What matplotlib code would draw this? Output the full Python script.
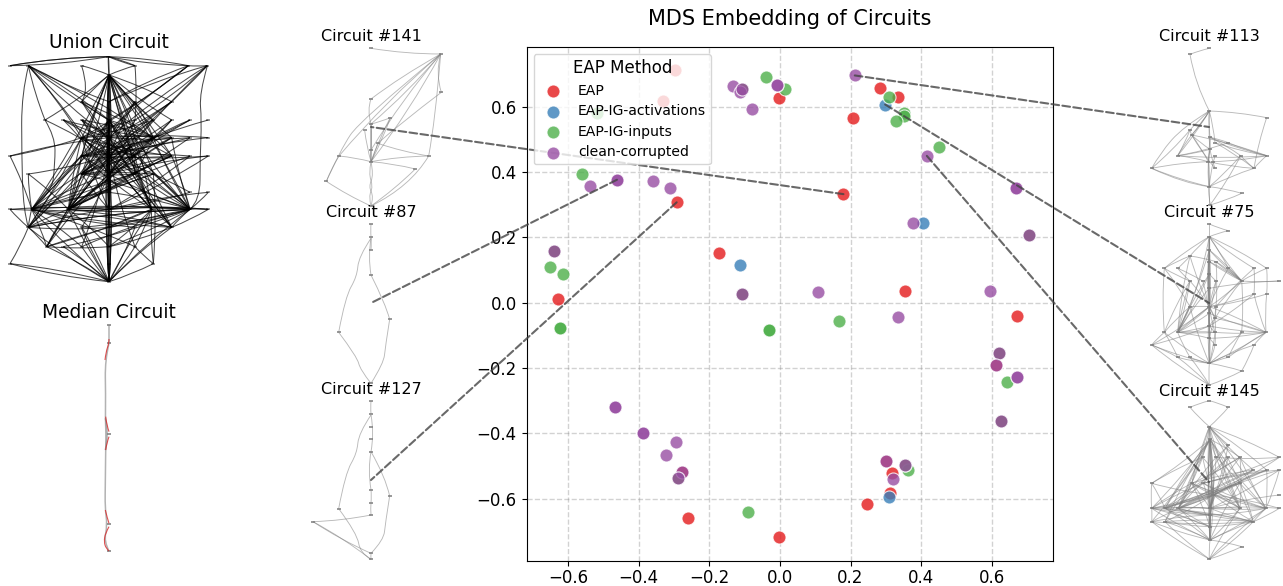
import matplotlib
matplotlib.use("Agg")
import matplotlib.pyplot as plt
from matplotlib.path import Path
from matplotlib.patches import PathPatch, ConnectionPatch

# scatter values, one list per method (overlapping points are repeated on purpose)
eap_x = [-0.297, -0.331, -0.002, -0.292, 0.284, 0.333, 0.207, 0.180, -0.171, -0.627, -0.261, -0.002, 0.354, 0.671,
         0.247, 0.318, 0.313, 0.301, 0.611, -0.277, -0.106, 0.706, -0.638, -0.108, -0.289, 0.620, 0.627, 0.354]
eap_y = [0.712, 0.617, 0.627, 0.307, 0.657, 0.628, 0.566, 0.332, 0.153, 0.011, -0.660, -0.717, 0.037, -0.042,
         -0.615, -0.521, -0.582, -0.485, -0.190, -0.517, 0.654, 0.208, 0.158, 0.027, -0.537, -0.155, -0.362, -0.496]
act_x = [0.298, 0.406, -0.113, 0.310]
act_y = [0.606, 0.245, 0.114, -0.593]
inp_x = [-0.517, -0.038, 0.015, -0.561, 0.309, 0.352, 0.351, 0.329, 0.450, -0.650, -0.613, -0.621, -0.621, -0.031, -0.031,
         -0.090, 0.167, 0.642, 0.362, -0.106, 0.706, -0.638, -0.108, -0.289, 0.620, 0.627, 0.354]
inp_y = [0.579, 0.689, 0.653, 0.394, 0.630, 0.580, 0.570, 0.555, 0.477, 0.110, 0.087, -0.077, -0.077, -0.083, -0.083,
         -0.640, -0.056, -0.242, -0.511, 0.654, 0.208, 0.158, 0.027, -0.537, -0.155, -0.362, -0.496]
cc_x = [-0.133, -0.113, -0.106, -0.009, -0.009, -0.080, -0.461, -0.461, -0.538, -0.358, -0.310, 0.212, 0.416, 0.668, 0.668,
        0.376, 0.706, -0.638, -0.108, -0.466, -0.466, -0.387, -0.387, -0.295, -0.323, -0.277, -0.289, 0.109, 0.335, 0.594,
        0.620, 0.611, 0.670, 0.670, 0.627, 0.301, 0.354, 0.320]
cc_y = [0.662, 0.643, 0.654, 0.666, 0.666, 0.592, 0.376, 0.376, 0.357, 0.373, 0.351, 0.695, 0.449, 0.352, 0.352,
        0.245, 0.208, 0.158, 0.027, -0.320, -0.320, -0.400, -0.400, -0.425, -0.466, -0.517, -0.537, 0.032, -0.044, 0.037,
        -0.155, -0.190, -0.227, -0.227, -0.362, -0.485, -0.496, -0.539]
methods = ["EAP", "EAP-IG-activations", "EAP-IG-inputs", "clean-corrupted"]
method_colors = ["#e41a1c", "#377eb8", "#4daf4a", "#984ea3"]

# circuit graphs: rows of nodes as (y, [x, ...]), a row letter + position names a node
union_rows = [
    (110, [325]), (137, [30, 85, 245, 405, 565, 622]), (165, [327]), (245, [245, 327, 405, 515]),
    (300, [135, 190, 245, 327, 405, 460, 515, 570, 625]), (353, [245, 327, 405, 460, 515, 570, 625]),
    (408, [30, 245, 327, 405, 515, 570, 625]), (462, [85, 245, 327, 405, 460]), (517, [327, 570, 625]),
    (568, [30, 95, 205, 327, 455, 570, 625]), (622, [85, 245, 327, 405, 515]), (680, [140, 190, 245, 327, 405]),
    (731, [30, 327, 460]), (785, [327]),
]
union_edges = """
a0-b0 a0-b0 a0-b0 a0-b4 a0-b4 a0-b3 a0-b3 a0-c0 a0-c0 b1-e3 b1-f1 b1-f3 b1-g4 b1-h2 b1-e0 b1-f0 b1-d1 b2-c0 b3-c0 b3-e4
b4-d1 b4-f0 b4-g1 b4-e3 b5-d1 b5-e4 b5-f1 b5-g2 b5-h2 b5-b4 c0-d1 c0-e3 c0-e3 c0-f0 c0-f1 c0-f2 c0-g1 c0-g2 c0-g3 c0-h1
c0-h2 c0-j1 c0-j2 c0-j3 c0-j4 c0-j5 c0-k4 c0-e0 c0-e5 c0-f3 c0-f4 c0-g4 c0-d0 c0-d3 c0-e6 c0-h4 c0-i0 c0-h3
d0-e3 d0-f3 d1-e3 d1-f1 d1-g2 d2-f3 d2-f1 d3-f1 d3-g2 e0-g2 e1-f1 e1-h2 e2-f1 e2-g2 e3-f1 e3-f3 e3-g2 e3-g2 e3-g3 e3-h2 e3-i0
e3-j1 e3-j2 e3-j4 e3-j5 e3-k0 e3-k4 e3-l0 e3-n0 e4-h2 e5-h2 e6-g3 e7-f3 e7-g2 e8-g2 f0-j1 f0-j2 f0-k0 f0-j3 f1-f6 f1-g2 f1-g2
f1-j1 f1-j2 f1-j3 f1-j4 f1-j5 f1-k0 f1-k4 f1-h2 f1-n0 f2-j4 f2-j5 f3-g4 f3-j5 f3-h3 f4-j5 f5-f1 f6-g2 g0-f1 g0-f0 g0-j1
g1-j1 g1-j2 g1-k0 g1-h2 g2-g6 g2-h2 g2-h2 g2-i0 g2-j1 g2-j2 g2-j3 g2-j3 g2-j4 g2-j5 g2-k0 g2-k4 g2-l0 g2-l2 g2-l4 g2-n0
g3-j4 g3-j5 g3-h3 g4-j5 g4-h3 g5-j3 g6-h2 g6-j3 h0-j1 h0-j2 h0-g2 h1-j2 h1-j3 h2-i0 h2-j1 h2-j2 h2-j3 h2-j3 h2-j5 h2-k1 h2-l0
h2-n0 h2-k2 h3-j4 h3-j5 h4-j5 i0-j3 i0-j3 i0-j1 i0-j5 i0-l3 i1-j3 i1-g2 i2-j5 i2-j3 j0-j3 j0-k0 j0-k4 j1-j3 j1-j5 j1-k0 j1-l0
j1-n0 j1-l2 j2-j5 j2-j6 j2-k0 j2-j3 j2-l0 j2-l3 j2-n0 j3-j5 j3-k2 j3-l3 j3-n0 j3-n0 j3-k0 j4-j5 j4-k2 j4-k4 j4-n0 j4-l4 j4-m2
j5-j6 j5-k4 j5-l3 j5-n0 j5-k2 j5-k0 j6-k4 j6-j3 k0-j5 k0-k2 k0-l0 k0-n0 k1-n0 k2-n0 k3-n0 k4-n0 k4-l3 l0-l3 l0-n0 l0-j4
l1-n0 l2-n0 l3-n0 l3-n0 l4-n0 l4-m2 k0-m0 m0-n0 m0-n0 m1-n0 m2-n0 m2-h4 j4-l3
e1-g3 e2-g3 e5-h1 e6-h1 f2-h1 f3-h1 f4-g1 f5-g1 g1-j4 g3-j2 d0-h3 d2-h1 d3-h1 e4-j2 e2-j4 f0-j4 f2-j2 f3-j2 f4-j2 f5-j2
g4-j2 g4-j1 g5-j2 h1-j5 h3-j1 h3-j2 h4-j2 h4-j1 j1-k4 j2-k4 k1-j5 k3-j1 l1-j5 l2-j5 l4-j1 l0-j5 f0-h3 f0-f4 f0-g4 f3-g1
f2-g1 f4-h1 e4-f0 e5-f0 e1-f3 e2-f3 g1-g4 g1-g5 g3-h1 g4-h1 h1-h3 h1-h4 f0-g3 f2-h2 f3-h2 d0-f1 d2-g2 e6-h2 e7-h2 f4-h2
"""
union_curves = [
    [(85, 140), (65, 220), (65, 400), (70, 570), (85, 622)],
    [(245, 138), (268, 210), (245, 245)],
    [(622, 138), (598, 220), (605, 300), (600, 420), (600, 540), (570, 568)],
    [(135, 300), (165, 350), (165, 430), (155, 520), (95, 568)],
    [(245, 625), (275, 700), (327, 785)],
]

c145_rows = [
    (62, [238]), (82, [180, 295]), (140, [238]), (178, [240]), (195, [295]), (232, [218, 258, 295, 330, 448]),
    (270, [370, 410, 448]), (310, [65, 185, 220, 330]), (345, [250, 448]), (385, [65, 105, 145, 240, 330, 408, 448]),
    (405, [240]), (425, [65, 105, 370]), (440, [240]), (480, [240]), (500, [335]), (537, [238]),
]
c145_edges = """
a0-b0 a0-b1 b0-c0 b1-c0 c0-d0 c0-d0 c0-e0 c0-f0 c0-f1 c0-f4 c0-g0 c0-g1 c0-h1 c0-h3 c0-j3 c0-j2 c0-j4 c0-j5
d0-f1 d0-f3 d0-h1 d0-i0 d0-i0 d0-i0 d0-i0 d0-j3 d0-j3 d0-j0 d0-j2 d0-j4 d0-j5 d0-l0 d0-l1 d0-l2 d0-k0 d0-m0 d0-n0 e0-f1 e0-h2 e0-j3
f0-j1 f0-j2 f0-i0 f1-h3 f1-j4 f1-j3 f1-f4 f2-h2 f2-j2 f3-h1 f3-i0 f3-j4 f3-j5 f4-i0 g0-h1 g0-i0 g1-j2 g1-j5 g1-i0
g2-j3 g2-h2 g2-j5 h0-d0 h0-f0 h0-j0 h0-j1 h1-i0 h1-j2 h1-j0 h1-j3 h1-l1 h2-j1 h2-j0 h2-j3 h3-i0 h3-l2 h3-j5
i0-j0 i0-j1 i0-j2 i0-j3 i0-j3 i0-j3 i0-j4 i0-j5 i0-j6 i0-l0 i0-l1 i0-l2 i0-k0 i0-m0 i0-n0 i1-j3 j0-j3 j0-k0 j0-l0 j0-n0
j1-j3 j1-k0 j1-n0 j1-m0 j2-j3 j2-k0 j2-n0 j2-m0 j3-j4 j3-j5 j3-j6 j3-k0 j3-k0 j3-l2 j3-m0 j3-n0
j4-n0 j4-p0 j5-k0 j5-l2 j5-n0 j5-p0 j6-l2 l0-n0 l0-k0 l0-p0 l1-n0 l1-p0 l2-m0 l2-n0 l2-p0 m0-n0 n0-o0 n0-p0 o0-p0
k0-m0 d0-k0 k0-n0 k0-n0 k0-m0 m0-n0 m0-n0
f0-j4 f1-j2 f2-j3 f3-j1 f4-h2 g0-j2 g0-j1 g1-h2 g1-j1 g2-j2 h1-j4 h1-j5 h2-j4 h2-j5 h3-j0 h3-j1 h3-j2 h0-i0
j1-l2 j2-l2 j0-l2 l0-l2 l1-l2 l1-m0 j0-m0 h3-n0 h1-m0 d0-j1
"""
c75_rows = [
    (72, [238]), (92, [295]), (110, [238]), (150, [238]), (168, [180]), (185, [238, 258]),
    (205, [103, 143, 295, 372, 410]), (222, [238]), (243, [180, 218, 258, 335, 448]), (265, [238]), (282, [372, 410]),
    (320, [180, 238, 258]), (340, [238]), (355, [255]), (378, [238]), (397, [103, 143, 255, 335, 408]), (415, [238]),
    (435, [65, 255, 372]), (472, [143, 180, 295]), (490, [238]), (513, [335]), (555, [238]),
]
c75_edges = """
a0-b0 a0-c0 b0-c0 c0-d0 c0-d0 c0-d0 c0-e0 c0-f0 c0-g0 c0-g2 c0-g3 c0-g4 c0-i3 c0-l0 c0-l1 d0-f0 d0-f0 d0-h0 d0-i3 d0-i3 d0-l1 d0-l1 d0-l1
d0-p1 d0-o0 e0-g1 e0-l1 e0-f1 e0-p1 f0-h0 f0-h0 f1-i3 f1-i3 f1-l2 f0-i3 f0-i3 f0-j0 g0-e0 g0-i0 g0-l0 g0-p0 g1-i1 g1-i0 g2-i3 g2-l1
g3-k0 g3-l2 g4-k1 g4-i3 h0-j0 h0-j0 h0-l1 h0-p1 h0-p1 h0-i2 i0-l1 i0-p0 i0-p1 i0-p1 i1-m0 i2-l1 i2-m0 i3-i4 i3-l1 i3-n0 i3-p3
i4-j0 j0-l1 j0-l1 j0-m0 j0-p1 k0-l1 k0-p4 k1-l1 k1-p4 k0-o0 l0-p1 l0-p1 l0-p0 l0-l1 l0-t0 l1-m0 l1-m0 l1-n0 l1-n0 l1-o0 l1-p1 l1-p1
l1-p2 l1-p4 l1-q0 l1-r0 l1-t0 l2-n0 l2-n0 m0-o0 m0-o0 m0-p1 m0-p4 n0-p4 n0-o0 n0-r1 n0-q0 o0-p1 o0-p2 o0-q0 o0-q0 o0-r0 o0-p4 o0-t0
p0-r0 p0-s0 p0-t0 p1-q0 p1-p2 p1-p2 p1-s1 p2-t0 p2-p4 p3-t0 p3-s2 p4-q0 p4-r2 p4-t0 p4-s2
q0-r1 q0-t0 q0-t0 r0-t0 r0-s0 r0-v0 r1-t0 r2-t0 r2-u0 s0-t0 s0-v0 s1-t0 s1-v0 s2-t0 t0-u0 t0-v0 u0-v0
"""
c113_rows = [
    (85, [238]), (103, [180]), (273, [238]), (293, [410]), (330, [180]), (345, [185]), (352, [240]), (368, [255, 295]),
    (388, [240]), (407, [143, 255, 332, 410]), (425, [235, 250]), (445, [65, 255, 372]), (500, [238]), (520, [335]),
    (555, [240]),
]
c113_edges = """
a0-b0 c0-d0 c0-e0 c0-f0 c0-g0 c0-h0 c0-i0 c0-j0 d0-l2 e0-j0 e0-f0 e0-l0 f0-j0 f0-j3 f0-i0 f0-k0 f0-l1 g0-h1 g0-j3 g0-j2 g0-m0 g0-i0
h0-j3 h0-l2 h1-j3 h1-j0 i0-k0 i0-j0 i0-l1 j0-k0 j0-j3 j1-k1 j2-l2 j2-m0 j3-l2 j3-k1 k0-l2 k0-m0 k1-m0 l0-k0 l0-m0 m0-n0
m0-o0 n0-o0 l2-m0 j2-o0 k0-o0 c0-f0 i0-k0
"""
c113_curves = [
    [(180, 103), (195, 190), (238, 273)],
    [(238, 273), (160, 320), (90, 400), (65, 445)],
    [(65, 445), (160, 490), (238, 500)],
]
c141_rows = [
    (85, [212]), (102, [421]), (237, [212]), (217, [423]), (293, [270]), (312, [212]), (331, [193]), (370, [232]),
    (390, [212]), (408, [116, 385]), (425, [212]), (447, [345]), (484, [78]), (558, [212]),
]
c141_edges = """
a0-b0 b0-f0 b0-i0 b0-k0 b0-j0 e0-f0 e0-k0 e0-k0 f0-k0 f0-k0 h0-j1 h0-k0 i0-k0 j0-k0 j1-k0 k0-l0 m0-n0 l0-n0 j0-m0 f0-i0 g0-k0
"""
c141_curves = [
    [(421, 102), (300, 170), (212, 237)],
    [(421, 102), (405, 160), (423, 217)],
    [(421, 102), (405, 300), (385, 408)],
    [(421, 102), (180, 300), (120, 390), (78, 484)],
    [(212, 237), (200, 270), (212, 312)],
    [(423, 217), (300, 310), (232, 370)],
    [(212, 425), (205, 460), (218, 500), (205, 530), (212, 558)],
    [(212, 425), (220, 465), (205, 500), (220, 530), (212, 558)],
    [(385, 408), (330, 500), (212, 558)],
]
c87_rows = [(72, [212]), (110, [212]), (149, [212]), (225, [212]), (358, [268]), (397, [115]), (550, [212])]
c87_edges = "a0-b0 b0-c0"
c87_curves = [
    [(212, 115), (175, 170), (170, 230), (135, 290), (115, 397)],
    [(212, 115), (203, 170), (212, 225)],
    [(212, 225), (255, 310), (268, 358)],
    [(268, 358), (255, 440), (250, 490), (212, 550)],
    [(115, 397), (170, 470), (180, 510), (212, 550)],
]
c127_rows = [
    (603, [212]), (642, [212]), (680, [212]), (716, [212]), (755, [212]), (869, [212]), (888, [268]), (908, [212]),
    (926, [115]), (945, [212]), (965, [38]), (1060, [212]), (1078, [212]),
]
c127_edges = "a0-b0 f0-h0 h0-j0 j0-k0 k0-l0 k0-m0 l0-m0"
c127_curves = [
    [(212, 645), (222, 700), (212, 755)],
    [(212, 645), (175, 700), (170, 760), (135, 820), (115, 926)],
    [(115, 926), (170, 1000), (180, 1060), (212, 1078)],
    [(212, 755), (255, 830), (268, 888)],
    [(268, 888), (255, 970), (250, 1020), (212, 1060)],
    [(212, 755), (202, 810), (212, 869)],
]
median_rows = [(91, [327]), (145, [327]), (416, [327]), (687, [327]), (768, [327])]
median_gray = [
    [(327, 91), (327, 145)],
    [(327, 145), (315, 195), (317, 300), (316, 370), (318, 416), (317, 470), (316, 560), (315, 640), (322, 690), (312, 740), (327, 768)],
    [(316, 370), (327, 416), (316, 465)],
]
median_red = [
    [(327, 132), (327, 145), (318, 170), (315, 195)],
    [(317, 365), (320, 390), (327, 410)],
    [(327, 425), (320, 445), (317, 465)],
    [(316, 645), (322, 670), (327, 685)],
    [(327, 695), (316, 715), (312, 740), (318, 760), (327, 768)],
]

link_x = [0.180, -0.461, -0.292, 0.212, 0.298, 0.416]
link_y = [0.332, 0.376, 0.307, 0.695, 0.606, 0.449]


def parse_nodes(rows):
    nodes = {}
    for i, (y, xs) in enumerate(rows):
        for j, x in enumerate(xs):
            nodes[chr(97 + i) + str(j)] = (x, y)
    return nodes


def smooth_path(pts):
    verts = [pts[0]]
    codes = [Path.MOVETO]
    for i in range(1, len(pts) - 1):
        end = pts[-1] if i == len(pts) - 2 else ((pts[i][0] + pts[i + 1][0]) / 2, (pts[i][1] + pts[i + 1][1]) / 2)
        verts += [pts[i], end]
        codes += [Path.CURVE3, Path.CURVE3]
    if len(pts) == 2:
        verts.append(pts[1])
        codes.append(Path.LINETO)
    return Path(verts, codes)


def draw_circuit(ax, rows, edges="", curves=(), color="gray", lw=0.65, alpha=0.55, node_size=2.2):
    nodes = parse_nodes(rows)
    for k, edge in enumerate(edges.split()):
        a, b = edge.split("-")
        (x0, y0), (x1, y1) = nodes[a], nodes[b]
        # slight bow so the edges are not ruler straight
        sign = 1 if k % 2 else -1
        mid = ((x0 + x1) / 2 + sign * 0.04 * (y1 - y0), (y0 + y1) / 2 - sign * 0.04 * (x1 - x0))
        ax.add_patch(PathPatch(smooth_path([(x0, y0), mid, (x1, y1)]), fc="none", ec=color, lw=lw, alpha=alpha,
                               clip_on=False))
    for pts in curves:
        ax.add_patch(PathPatch(smooth_path(pts), fc="none", ec=color, lw=lw, alpha=alpha, clip_on=False))
    xs = [p[0] for p in nodes.values()]
    ys = [p[1] for p in nodes.values()]
    ax.plot(xs, ys, ls="none", marker="_", color="#999999", ms=node_size, mew=1.4, clip_on=False, zorder=0.5)


def make_panel(cx, cy, half_w, half_h, zoom_cx, zoom_cy, title, size, pad):
    ax = fig.add_axes([(cx - half_w) / W, 1 - (cy + half_h) / H, 2 * half_w / W, 2 * half_h / H])
    ax.set_xlim(zoom_cx - half_w * 3, zoom_cx + half_w * 3)
    ax.set_ylim(zoom_cy + half_h * 3, zoom_cy - half_h * 3)
    ax.set_title(title, fontsize=size, pad=pad)
    ax.axis("off")
    ax.patch.set_alpha(0)
    return ax


W, H = 1283, 586
fig = plt.figure(figsize=(W / 100, H / 100), dpi=100)

ax_union = make_panel(109, 169, 105, 113, 327, 447, "Union Circuit", 13.4, 5.5)
draw_circuit(ax_union, union_rows, union_edges, union_curves, color="black", lw=0.75, alpha=0.7, node_size=3)
ax_median = make_panel(109, 438, 105, 113, 327, 429, "Median Circuit", 13.4, 5)
draw_circuit(ax_median, median_rows, "", median_gray, color="gray", lw=1.1, alpha=0.6, node_size=3)
draw_circuit(ax_median, median_rows, "", median_red, color="#d62728", lw=0.8, alpha=0.8, node_size=3)

side = [
    (371, 127, 212, 321, "Circuit #141", c141_rows, c141_edges, c141_curves),
    (371, 303, 212, 309, "Circuit #87", c87_rows, c87_edges, c87_curves),
    (371, 480, 212, 840, "Circuit #127", c127_rows, c127_edges, c127_curves),
    (1209, 127, 237, 321, "Circuit #113", c113_rows, c113_edges, c113_curves),
    (1209, 303, 237, 309, "Circuit #75", c75_rows, c75_edges, []),
    (1209, 482, 237, 306, "Circuit #145", c145_rows, c145_edges, []),
]
side_axes = []
for cx, cy, zx, zy, title, rows, edges, curves in side:
    ax = make_panel(cx, cy, 74, 80, zx, zy, title, 11.5, 4)
    draw_circuit(ax, rows, edges, curves)
    side_axes.append(ax)

# main scatter goes last so the links are drawn over the side panels
ax = fig.add_axes([526.5 / W, 1 - 561 / H, 526.5 / W, 514 / H])
series = [(eap_x, eap_y), (act_x, act_y), (inp_x, inp_y), (cc_x, cc_y)]
for (xs, ys), label, col in zip(series, methods, method_colors):
    ax.scatter(xs, ys, s=88, c=col, alpha=0.8, edgecolors="white", linewidths=0.8, label=label, zorder=2)
ax.set_xlim(-0.717, 0.773)
ax.set_ylim(-0.79, 0.782)
ax.set_xticks([-0.6, -0.4, -0.2, 0, 0.2, 0.4, 0.6])
ax.set_yticks([-0.6, -0.4, -0.2, 0, 0.2, 0.4, 0.6])
ax.tick_params(labelsize=12)
ax.tick_params(axis="x", pad=2)
ax.grid(True, linestyle="--", color="gray", alpha=0.35, linewidth=1)
ax.set_axisbelow(True)
ax.set_title("MDS Embedding of Circuits", fontsize=15, pad=16)
ax.legend(title="EAP Method", title_fontsize=12, fontsize=10.1, loc="upper left", borderpad=0.36, labelspacing=0.47)

for px, py, side_ax in zip(link_x, link_y, side_axes):
    con = ConnectionPatch(xyA=(px, py), coordsA=ax.transData, xyB=(0.5, 0.5), coordsB=side_ax.transAxes,
                          linestyle="--", color="#444444", alpha=0.8, linewidth=1.5, zorder=3)
    ax.add_artist(con)

fig.savefig("out.png", dpi=100)
